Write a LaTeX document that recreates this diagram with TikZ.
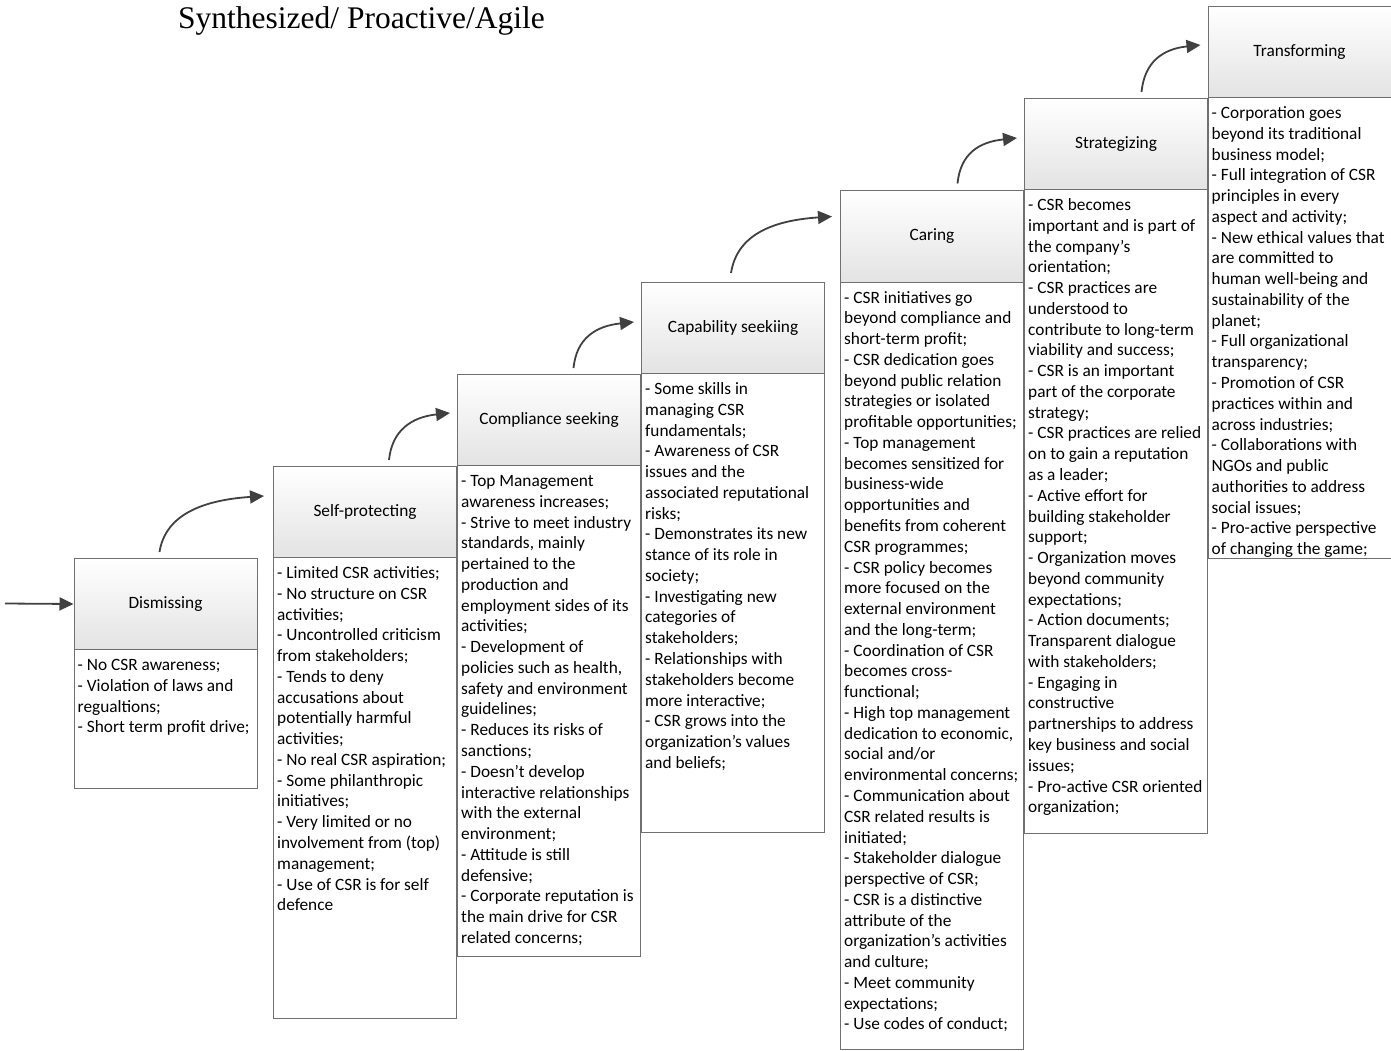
\documentclass[tikz,border=0pt]{standalone}
\usepackage{fontspec}
\setmainfont{Carlito}
\newfontfamily\titlefont{Liberation Serif}
\usetikzlibrary{arrows.meta,calc}

\definecolor{boxline}{HTML}{707070}
\definecolor{headgray}{HTML}{E3E3E3}
\definecolor{arrowgray}{HTML}{404040}
\newcommand\stagefont{\fontsize{17.3}{20.77}\selectfont}
\newcommand\stagelist[1]{\parbox[t]{200pt}{\raggedright #1}}

\tikzset{
  stagehead/.style={draw=boxline, line width=1pt, top color=white, bottom color=headgray,
    minimum width=183pt, minimum height=91pt, anchor=north west, inner sep=0pt, font=\stagefont},
  stagebody/.style={draw=boxline, line width=1pt, fill=white,
    minimum width=183pt, anchor=north west, inner sep=0pt},
  stagetext/.style={anchor=base west, inner sep=0pt, font=\stagefont},
  flow/.style={draw=arrowgray, line width=1.8pt, -{Triangle[length=14pt,width=13pt]}},
}

\begin{document}
\begin{tikzpicture}[x=1pt, y=-1pt]
\useasboundingbox (0,0) rectangle (1391,1051);

\node[anchor=base west, inner sep=0pt, font=\titlefont\fontsize{31.5}{36}\selectfont]
  (title) at (178,29) {Synthesized/ Proactive/Agile};

% stage 1
\node[stagebody, minimum height=139] (b1) at (73.5,649) {};
\node[stagehead] (h1) at (73.5,558) {Dismissing};
\node[stagetext] (t1) at ($(b1.north west)+(4,21.5)$) {\stagelist{%
- No CSR awareness;\\
- Violation of laws and\\
regualtions;\\
- Short term profit drive;}};

% stage 2
\node[stagebody, minimum height=461] (b2) at (273,557) {};
\node[stagehead] (h2) at (273,466) {Self-protecting};
\node[stagetext] (t2) at ($(b2.north west)+(4,21.5)$) {\stagelist{%
- Limited CSR activities;\\
- No structure on CSR\\
activities;\\
- Uncontrolled criticism\\
from stakeholders;\\
- Tends to deny\\
accusations about\\
potentially harmful\\
activities;\\
- No real CSR aspiration;\\
- Some philanthropic\\
initiatives;\\
- Very limited or no\\
involvement from (top)\\
management;\\
- Use of CSR is for self\\
defence}};

% stage 3
\node[stagebody, minimum height=491] (b3) at (457,465) {};
\node[stagehead] (h3) at (457,374) {Compliance seeking};
\node[stagetext] (t3) at ($(b3.north west)+(4,21.5)$) {\stagelist{%
- Top Management\\
awareness increases;\\
- Strive to meet industry\\
standards, mainly\\
pertained to the\\
production and\\
employment sides of its\\
activities;\\
- Development of\\
policies such as health,\\
safety and environment\\
guidelines;\\
- Reduces its risks of\\
sanctions;\\
- Doesn't develop\\
interactive relationships\\
with the external\\
environment;\\
- Attitude is still\\
defensive;\\
- Corporate reputation is\\
the main drive for CSR\\
related concerns;}};

% stage 4
\node[stagebody, minimum height=459] (b4) at (641,373) {};
\node[stagehead] (h4) at (641,282) {Capability seekiing};
\node[stagetext] (t4) at ($(b4.north west)+(4,21.5)$) {\stagelist{%
- Some skills in\\
managing CSR\\
fundamentals;\\
- Awareness of CSR\\
issues and the\\
associated reputational\\
risks;\\
- Demonstrates its new\\
stance of its role in\\
society;\\
- Investigating new\\
categories of\\
stakeholders;\\
- Relationships with\\
stakeholders become\\
more interactive;\\
- CSR grows into the\\
organization's values\\
and beliefs;}};

% stage 5
\node[stagebody, minimum height=767.5] (b5) at (840,281.5) {};
\node[stagehead] (h5) at (840,190.5) {Caring};
\node[stagetext] (t5) at ($(b5.north west)+(4,21.5)$) {\stagelist{%
- CSR initiatives go\\
beyond compliance and\\
short-term profit;\\
- CSR dedication goes\\
beyond public relation\\
strategies or isolated\\
profitable opportunities;\\
- Top management\\
becomes sensitized for\\
business-wide\\
opportunities and\\
benefits from coherent\\
CSR programmes;\\
- CSR policy becomes\\
more focused on the\\
external environment\\
and the long-term;\\
- Coordination of CSR\\
becomes cross-\\
functional;\\
- High top management\\
dedication to economic,\\
social and/or\\
environmental concerns;\\
- Communication about\\
CSR related results is\\
initiated;\\
- Stakeholder dialogue\\
perspective of CSR;\\
- CSR is a distinctive\\
attribute of the\\
organization's activities\\
and culture;\\
- Meet community\\
expectations;\\
- Use codes of conduct;}};

% stage 6
\node[stagebody, minimum height=644] (b6) at (1024,189) {};
\node[stagehead] (h6) at (1024,98) {Strategizing};
\node[stagetext] (t6) at ($(b6.north west)+(4,21.5)$) {\stagelist{%
- CSR becomes\\
important and is part of\\
the company's\\
orientation;\\
- CSR practices are\\
understood to\\
contribute to long-term\\
viability and success;\\
- CSR is an important\\
part of the corporate\\
strategy;\\
- CSR practices are relied\\
on to gain a reputation\\
as a leader;\\
- Active effort for\\
building stakeholder\\
support;\\
- Organization moves\\
beyond community\\
expectations;\\
- Action documents;\\
Transparent dialogue\\
with stakeholders;\\
- Engaging in\\
constructive\\
partnerships to address\\
key business and social\\
issues;\\
- Pro-active CSR oriented\\
organization;}};

% stage 7
\node[stagebody, minimum height=461] (b7) at (1207.5,97) {};
\node[stagehead] (h7) at (1207.5,6) {Transforming};
\node[stagetext] (t7) at ($(b7.north west)+(4,21.5)$) {\stagelist{%
- Corporation goes\\
beyond its traditional\\
business model;\\
- Full integration of CSR\\
principles in every\\
aspect and activity;\\
- New ethical values that\\
are committed to\\
human well-being and\\
sustainability of the\\
planet;\\
- Full organizational\\
transparency;\\
- Promotion of CSR\\
practices within and\\
across industries;\\
- Collaborations with\\
NGOs and public\\
authorities to address\\
social issues;\\
- Pro-active perspective\\
of changing the game;}};

% entry arrow
\coordinate (entry) at (5,603.5);
\draw[flow] (entry) -- (h1.west);

% progression arrows between stages
\coordinate (s1) at ($(h1.north)+(-6,-6)$);
\coordinate (e1) at ($(h2.north west)+(-9,30)$);
\draw[flow] (s1) .. controls +(6,-38) and +(-60,4) .. (e1);

\coordinate (s2) at ($(h2.north)+(24,-6)$);
\coordinate (e2) at ($(h3.north west)+(-7,39)$);
\draw[flow] (s2) .. controls +(3,-30) and +(-38,4) .. (e2);

\coordinate (s3) at ($(h3.north)+(24.5,-6)$);
\coordinate (e3) at ($(h4.north west)+(-7,40)$);
\draw[flow] (s3) .. controls +(3,-30) and +(-38,4) .. (e3);

\coordinate (s4) at ($(h4.north)+(-2,-9)$);
\coordinate (e4) at ($(h5.north west)+(-8,26)$);
\draw[flow] (s4) .. controls +(6,-38) and +(-60,4) .. (e4);

\coordinate (s5) at ($(h5.north)+(25.5,-7)$);
\coordinate (e5) at ($(h6.north west)+(-7,40)$);
\draw[flow] (s5) .. controls +(3,-30) and +(-38,4) .. (e5);

\coordinate (s6) at ($(h6.north)+(25.5,-6)$);
\coordinate (e6) at ($(h7.north west)+(-7,39)$);
\draw[flow] (s6) .. controls +(3,-30) and +(-38,4) .. (e6);

\end{tikzpicture}
\end{document}
